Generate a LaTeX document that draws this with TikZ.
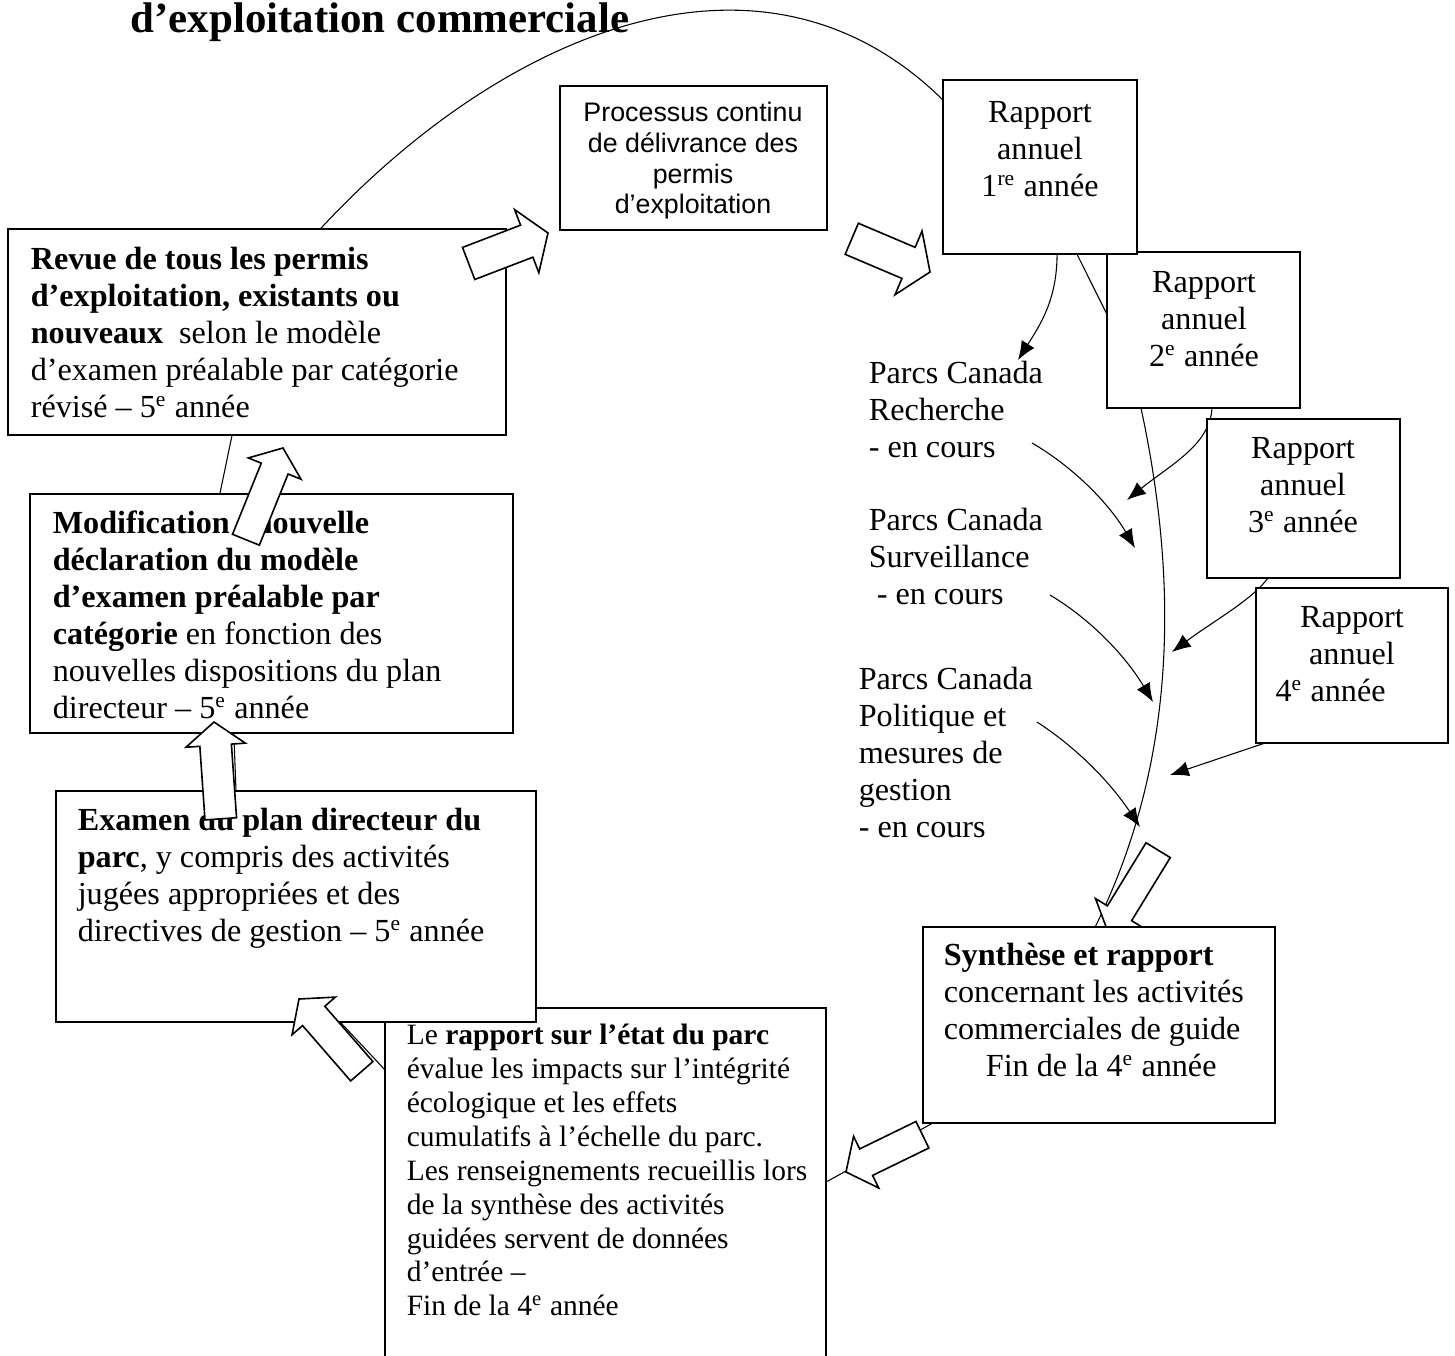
\documentclass[tikz,border=0pt]{standalone}
\usepackage{fontspec}
\setmainfont{Liberation Serif}
\setsansfont{Liberation Sans}
\usetikzlibrary{shapes.arrows, arrows.meta, calc}
\pgfdeclarelayer{back}
\pgfsetlayers{back,main}
\def\pxl{0.373pt}

\begin{document}
\begin{tikzpicture}[x=0.373pt, y=-0.373pt, line width=0.6pt, >={Latex[length=7pt,width=5.6pt]}]
\tikzstyle{box} = [draw, rectangle, fill=white, anchor=north west, inner sep=0pt, outer sep=0pt]
\tikzstyle{txt} = [inner sep=0pt, align=left, anchor=north west, font=\fontsize{12}{13.8}\selectfont]
\tikzstyle{ctxt} = [txt, align=center, anchor=north]
\tikzstyle{bigarrow} = [single arrow, draw, fill=white, anchor=tip, inner xsep=0pt, inner ysep=5.4pt, outer sep=0pt, minimum width=0pt, single arrow head extend=5.2pt, single arrow tip angle=104, minimum height=36pt]

\useasboundingbox (0,0) rectangle (1455,1356);

\node[anchor=base west, inner sep=0pt, font=\bfseries\fontsize{16}{18}\selectfont] (titre) at (130,33) {d’exploitation commerciale};

% We start by placing the boxes
\node[box, minimum width=193*\pxl, minimum height=156*\pxl] (rap2) at (1107,252) {};
\node[box, minimum width=194*\pxl, minimum height=174*\pxl] (rap1) at (943,80) {};
\node[box, minimum width=193*\pxl, minimum height=159*\pxl] (rap3) at (1207,419) {};
\node[box, minimum width=192*\pxl, minimum height=155*\pxl] (rap4) at (1256,588) {};
\node[box, minimum width=267*\pxl, minimum height=144*\pxl] (proc) at (560,86) {};
\node[box, minimum width=498*\pxl, minimum height=206*\pxl] (revue) at (8,229) {};
\node[box, minimum width=483*\pxl, minimum height=239*\pxl] (modif) at (30,494) {};
\node[box, minimum width=441*\pxl, minimum height=392*\pxl] (etat) at (385,1008) {};
\node[box, minimum width=480*\pxl, minimum height=231*\pxl] (examen) at (56,791) {};
\node[bigarrow, rotate=-121.5, minimum height=35.8pt, inner ysep=5pt] (fl7) at (1108,932) {};
\node[box, minimum width=352*\pxl, minimum height=196*\pxl] (synth) at (923,927) {};

% texts
\node[ctxt, font=\sffamily\fontsize{10}{11.5}\selectfont] (proctxt) at (693,99) {\strut Processus continu\\de délivrance des\\permis\\d’exploitation};
\node[ctxt] (rap1txt) at (1040,96) {\strut Rapport\\annuel\\1\textsuperscript{re} année};
\node[ctxt] (rap2txt) at (1204,266) {\strut Rapport\\annuel\\2\textsuperscript{e} année};
\node[ctxt] (rap3txt) at (1303,432) {\strut Rapport\\annuel\\3\textsuperscript{e} année};
\node[ctxt] (rap4txt) at (1352,601) {\strut Rapport\\annuel\\4\textsuperscript{e} année\hspace*{16pt}};
\node[txt] (rech) at (868,357) {\strut Parcs Canada\\Recherche\\- en cours};
\node[txt] (surv) at (868,504) {\strut Parcs Canada\\Surveillance\\\hspace*{3pt}- en cours};
\node[txt] (poli) at (858,663) {\strut Parcs Canada\\Politique et\\mesures de\\gestion\\- en cours};
\node[txt] (revuetxt) at (30,243) {\strut\textbf{Revue de tous les permis}\\\textbf{d’exploitation, existants ou}\\\textbf{nouveaux}~ selon le modèle\\d’examen préalable par catégorie\\révisé – 5\textsuperscript{e} année};
\node[txt] (modiftxt) at (52,507) {\strut\textbf{Modification / nouvelle}\\\textbf{déclaration du modèle}\\\textbf{d’examen préalable par}\\\textbf{catégorie} en fonction des\\nouvelles dispositions du plan\\directeur – 5\textsuperscript{e} année};
\node[txt] (examentxt) at (77,804) {\strut\textbf{Examen du plan directeur du}\\\textbf{parc}, y compris des activités\\jugées appropriées et des\\directives de gestion – 5\textsuperscript{e} année};
\node[txt, font=\fontsize{11}{12.65}\selectfont] (etattxt) at (406,1020) {\strut Le \textbf{rapport sur l’état du parc}\\évalue les impacts sur l’intégrité\\écologique et les effets\\cumulatifs à l’échelle du parc.\\Les renseignements recueillis lors\\de la synthèse des activités\\guidées servent de données\\d’entrée –\\Fin de la 4\textsuperscript{e} année};
\node[txt] (synthtxt) at (943,939) {\strut\textbf{Synthèse et rapport}\\concernant les activités\\commerciales de guide\\\hspace*{15.7pt}Fin de la 4\textsuperscript{e} année};

% big hollow arrows
\node[bigarrow, rotate=21, minimum height=31.7pt, inner ysep=6.1pt, single arrow head extend=6.2pt, single arrow tip angle=112] (fl1) at (548,233) {};
\node[bigarrow, rotate=-23, minimum height=31.7pt, inner ysep=6pt, single arrow head extend=6.6pt, single arrow tip angle=112] (fl2) at (930,272) {};
\node[bigarrow, rotate=68, minimum height=36.9pt, inner ysep=5.1pt] (fl3) at (283,448) {};
\node[bigarrow, rotate=94, minimum height=36.2pt, inner ysep=5.6pt] (fl4) at (214,722) {};
\node[bigarrow, rotate=131, minimum height=35.7pt, inner ysep=5.2pt] (fl5) at (299,999) {};
\node[bigarrow, rotate=206, minimum height=31.7pt, inner ysep=5.2pt] (fl6) at (846,1172) {};

% Once the boxes are placed, the cycle and the small arrows go behind them
\begin{pgfonlayer}{back}
\fill[white] (0,0) rectangle (1455,1356);
\draw ($(revue.north west)!0.627!(revue.north east)$) .. controls (500,35) and (760,-80) .. ($(rap1.north west)!0.115!(rap1.south west)$);
\draw ($(rap1.south west)!0.69!(rap1.south east)$) -- ($(rap2.north west)!0.40!(rap2.south west)$);
\draw ($(rap2.south west)!0.176!(rap2.south east)$) .. controls (1178,580) and (1178,760) .. ($(synth.north west)!0.489!(synth.north east)$);
\draw ($(synth.south west)!0.028!(synth.south east)$) -- ($(etat.north east)!0.444!(etat.south east)$);
\draw ($(etat.north west)!0.158!(etat.south west)$) -- ($(examen.south west)!0.592!(examen.south east)$);
\draw ($(modif.south west)!0.422!(modif.south east)$) -- ($(examen.north west)!0.375!(examen.north east)$);
\draw ($(modif.north west)!0.393!(modif.north east)$) -- ($(revue.south west)!0.45!(revue.south east)$);

\coordinate (in1) at (1018,360);
\coordinate (in2) at (1127,500);
\coordinate (out3) at (1032,443);
\coordinate (in3) at (1135,548);
\coordinate (in4) at (1172,652);
\coordinate (out5) at (1050,595);
\coordinate (in5) at (1153,702);
\coordinate (in6) at (1170,775);
\coordinate (out7) at (1037,722);
\coordinate (in7) at (1140,827);
\draw[->] ($(rap1.south west)!0.588!(rap1.south east)$) .. controls (1057,300) and (1040,325) .. (in1);
\draw[->] ($(rap2.south west)!0.544!(rap2.south east)$) .. controls (1210,445) and (1170,465) .. (in2);
\draw[->] (out3) .. controls (1075,468) and (1110,505) .. (in3);
\draw[->] ($(rap3.south west)!0.316!(rap3.south east)$) .. controls (1252,600) and (1212,622) .. (in4);
\draw[->] (out5) .. controls (1095,622) and (1128,660) .. (in5);
\draw[->] ($(rap4.south west)!0.047!(rap4.south east)$) -- (in6);
\draw[->] (out7) .. controls (1080,750) and (1112,785) .. (in7);
\end{pgfonlayer}

\end{tikzpicture}
\end{document}
